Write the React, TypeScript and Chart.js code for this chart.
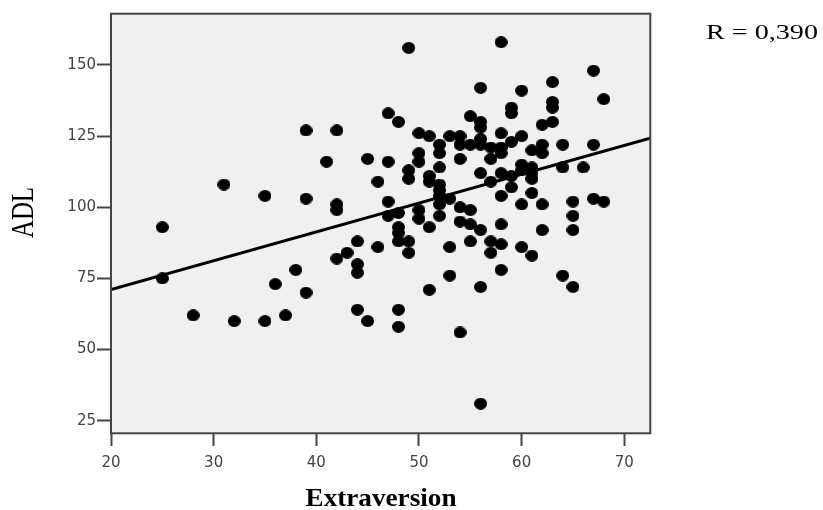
import React, { useEffect, useRef } from "react";
import { Chart, registerables } from "chart.js";

Chart.register(...registerables);

// Extraversion score (x) and ADL score (y) for each respondent
const extraversion: number[] = [
  25, 25,
  28,
  31,
  32,
  35, 35,
  36,
  37,
  38,
  39, 39, 39,
  41,
  42, 42, 42, 42,
  43,
  44, 44, 44, 44,
  45, 45,
  46, 46,
  47, 47, 47, 47,
  48, 48, 48, 48, 48, 48, 48,
  49, 49, 49, 49, 49,
  50, 50, 50, 50, 50,
  51, 51, 51, 51, 51,
  52, 52, 52, 52, 52, 52, 52, 52,
  53, 53, 53, 53,
  54, 54, 54, 54, 54, 54,
  55, 55, 55, 55, 55,
  56, 56, 56, 56, 56, 56, 56, 56, 56,
  57, 57, 57, 57, 57,
  58, 58, 58, 58, 58, 58, 58, 58, 58,
  59, 59, 59, 59, 59,
  60, 60, 60, 60, 60, 60,
  61, 61, 61, 61, 61, 61,
  62, 62, 62, 62, 62,
  63, 63, 63, 63,
  64, 64, 64,
  65, 65, 65, 65,
  66,
  67, 67, 67,
  68, 68,
];

const adl: number[] = [
  93, 75,
  62,
  108,
  60,
  104, 60,
  73,
  62,
  78,
  127, 103, 70,
  116,
  127, 101, 99, 82,
  84,
  88, 80, 77, 64,
  117, 60,
  109, 86,
  133, 116, 102, 97,
  130, 98, 93, 91, 88, 64, 58,
  156, 113, 110, 88, 84,
  126, 119, 116, 99, 96,
  125, 111, 109, 93, 71,
  122, 119, 114, 108, 106, 104, 101, 97,
  125, 103, 86, 76,
  125, 122, 117, 100, 95, 56,
  132, 122, 99, 94, 88,
  142, 130, 128, 124, 122, 112, 92, 72, 31,
  121, 117, 109, 88, 84,
  158, 126, 121, 119, 112, 104, 94, 87, 78,
  135, 133, 123, 111, 107,
  141, 125, 115, 113, 101, 86,
  120, 114, 112, 110, 105, 83,
  129, 122, 119, 101, 92,
  144, 137, 135, 130,
  122, 114, 76,
  102, 97, 92, 72,
  114,
  148, 122, 103,
  138, 102,
];

// Linear fit line end points
const fitX: number[] = [20, 72.6];
const fitY: number[] = [71.1, 124.4];

const xTitle = "Extraversion";
const yTitle = "ADL";
const rLabel = "R = 0,390";

const X_MIN = 20;
const X_MAX = 72.6;
const Y_MIN = 20.33;
const Y_MAX = 168.27;

function makeDot(): HTMLCanvasElement {
  const c = document.createElement("canvas");
  c.width = 13;
  c.height = 12;
  const g = c.getContext("2d")!;
  g.fillStyle = "#000";
  g.beginPath();
  g.ellipse(6.5, 6, 6.5, 6, 0, 0, Math.PI * 2);
  g.fill();
  return c;
}

// Draws text whose length along its own direction is fitted to a given size
function fittedText(
  ctx: CanvasRenderingContext2D,
  text: string,
  font: string,
  x: number,
  y: number,
  length: number,
  align: "left" | "center",
  rotate = 0
) {
  ctx.save();
  ctx.font = font;
  ctx.fillStyle = "#000";
  ctx.textBaseline = "alphabetic";
  ctx.textAlign = "left";
  const w = ctx.measureText(text).width;
  ctx.translate(x, y);
  if (rotate) ctx.rotate(rotate);
  ctx.scale(length / w, 1);
  ctx.fillText(text, align === "center" ? -w / 2 : 0, 0);
  ctx.restore();
}

const framePlugin = {
  id: "frame",
  beforeDatasetsDraw(chart: any) {
    const { ctx, chartArea: a } = chart;
    ctx.save();
    ctx.fillStyle = "#f0f0f0";
    ctx.fillRect(a.left, a.top, a.right - a.left, a.bottom - a.top);
    ctx.restore();
  },
  afterDraw(chart: any) {
    const { ctx, chartArea: a } = chart;
    ctx.save();
    ctx.strokeStyle = "#444";
    ctx.lineWidth = 2;
    ctx.strokeRect(a.left, a.top + 0.7, a.right - a.left - 0.7, a.bottom - a.top - 1.4);
    ctx.restore();
    fittedText(ctx, xTitle, 'bold 25px "Liberation Serif"', (a.left + a.right) / 2, 506, 151, "center");
    fittedText(ctx, yTitle, '31px "Liberation Serif"', 33, 212.5, 51, "center", -Math.PI / 2);
    fittedText(ctx, rLabel, '22px "Liberation Serif"', 706, 39, 112, "left");
  },
};

export default function App() {
  const ref = useRef<HTMLCanvasElement | null>(null);

  useEffect(() => {
    if (!ref.current) return;
    const dot = makeDot();
    const points = extraversion.map((x, i) => ({ x, y: adl[i] }));
    const line = fitX.map((x, i) => ({ x, y: fitY[i] }));
    const tickFont = { family: '"DejaVu Sans"', size: 15 };

    const chart = new Chart(ref.current, {
      type: "scatter",
      data: {
        datasets: [
          {
            type: "line",
            data: line,
            borderColor: "#000",
            borderWidth: 3,
            pointRadius: 0,
            fill: false,
          } as any,
          {
            data: points,
            pointStyle: dot as any,
            pointRadius: 6,
            backgroundColor: "#000",
            borderWidth: 0,
          },
        ],
      },
      options: {
        responsive: false,
        animation: false,
        devicePixelRatio: 1,
        layout: { padding: { left: 0, top: 13, right: 172, bottom: 0 } },
        plugins: {
          legend: { display: false },
          tooltip: { enabled: false },
        },
        scales: {
          x: {
            type: "linear",
            min: X_MIN,
            max: X_MAX,
            border: { display: false },
            grid: {
              drawOnChartArea: false,
              drawTicks: true,
              tickLength: 12,
              tickWidth: 2,
              tickColor: "#444",
            },
            ticks: {
              stepSize: 10,
              includeBounds: false,
              padding: 8,
              color: "#444",
              font: tickFont,
              maxRotation: 0,
            },
            afterFit(scale: any) {
              scale.height = 76;
            },
          },
          y: {
            type: "linear",
            min: Y_MIN,
            max: Y_MAX,
            border: { display: false },
            grid: {
              drawOnChartArea: false,
              drawTicks: true,
              tickLength: 14,
              tickWidth: 2,
              tickColor: "#444",
            },
            ticks: {
              stepSize: 25,
              includeBounds: false,
              padding: 1,
              color: "#444",
              font: tickFont,
            },
            afterFit(scale: any) {
              scale.width = 111;
            },
          },
        },
      },
      plugins: [framePlugin],
    });

    return () => chart.destroy();
  }, []);

  return (
    <div style={{ position: "absolute", left: 0, top: 0, width: 823, height: 510, background: "#fff" }}>
      <canvas ref={ref} width={823} height={510} />
    </div>
  );
}
